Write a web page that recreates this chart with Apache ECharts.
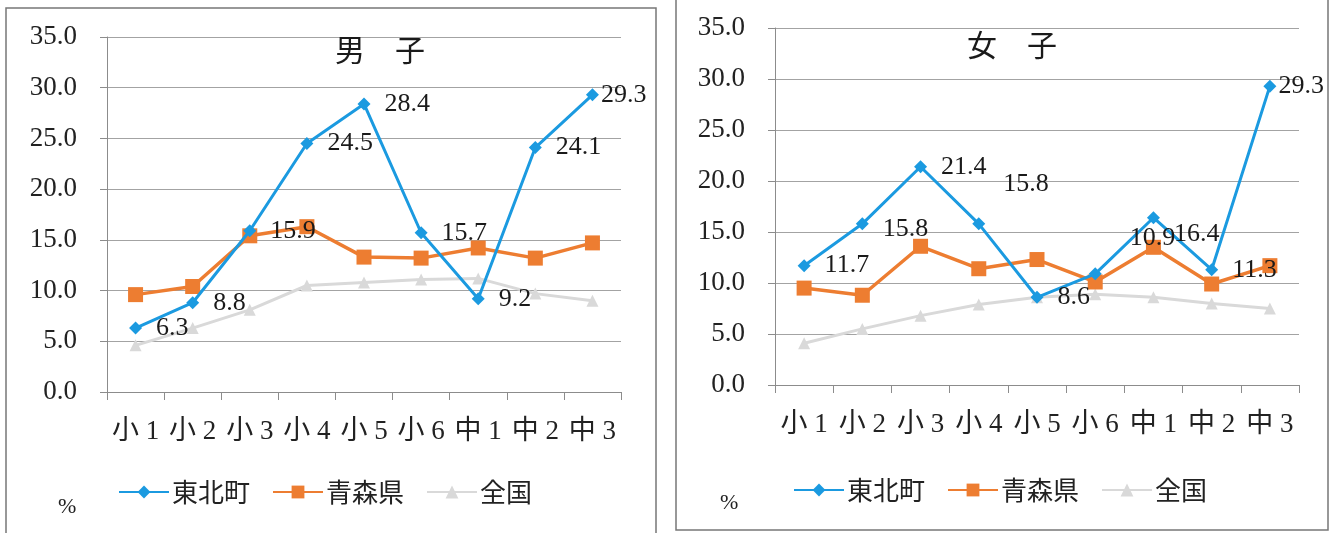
<!DOCTYPE html>
<html>
<head>
<meta charset="utf-8">
<script src="https://cdn.jsdelivr.net/npm/echarts@6/dist/echarts.min.js"></script>
<style>
  html, body { margin: 0; padding: 0; background: #fff; }
  #chart { width: 1333px; height: 533px; }
</style>
</head>
<body>
<div id="chart"></div>
<script>
// grades
const grades = ["小 1", "小 2", "小 3", "小 4", "小 5", "小 6", "中 1", "中 2", "中 3"];
const seriesNames = ["東北町", "青森県", "全国"];

// 男子 (%)
const boysTown = [6.3, 8.8, 15.9, 24.5, 28.4, 15.7, 9.2, 24.1, 29.3];
const boysPref = [9.6, 10.4, 15.4, 16.3, 13.3, 13.2, 14.2, 13.2, 14.7];
const boysNation = [4.6, 6.3, 8.1, 10.5, 10.8, 11.1, 11.2, 9.7, 9.0];

// 女子 (%)
const girlsTown = [11.7, 15.8, 21.4, 15.8, 8.6, 10.9, 16.4, 11.3, 29.3];
const girlsPref = [9.5, 8.8, 13.6, 11.4, 12.3, 10.1, 13.5, 9.9, 11.7];
const girlsNation = [4.1, 5.5, 6.8, 7.9, 8.6, 8.9, 8.6, 8.0, 7.5];

const yTicks = [0, 5, 10, 15, 20, 25, 30, 35];

const serif = "'Liberation Serif', 'Noto Sans CJK JP', serif";
const cjk = "'Noto Sans CJK JP', sans-serif";
const colors = ["#1b9ae0", "#ed7d31", "#d9d9d9"];

const chart = echarts.init(document.getElementById("chart"), null, { renderer: "canvas" });

function xAxisFor(idx) {
  return {
    type: "category",
    gridIndex: idx,
    data: grades,
    boundaryGap: true,
    axisLine: { lineStyle: { color: "#8c8c8c", width: 1 } },
    axisTick: { show: true, length: 8, interval: 0, lineStyle: { color: "#8c8c8c" } },
    axisLabel: { interval: 0, hideOverlap: false, fontFamily: serif, fontSize: 27, color: "#222", margin: 26 }
  };
}

function yAxisFor(idx) {
  return {
    type: "value",
    gridIndex: idx,
    min: yTicks[0],
    max: yTicks[yTicks.length - 1],
    interval: 5,
    axisLine: { show: true, lineStyle: { color: "#8c8c8c", width: 1 } },
    axisTick: { show: true, length: 7, lineStyle: { color: "#8c8c8c" } },
    splitLine: { lineStyle: { color: "#a3a3a3", width: 1 } },
    axisLabel: {
      fontFamily: serif, fontSize: 27, color: "#222", margin: 30,
      formatter: v => v.toFixed(1)
    }
  };
}

// per-point label nudges
function labelled(values, nudges) {
  return values.map((v, i) => {
    if (!nudges[i]) return v;
    return { value: v, label: { offset: nudges[i] } };
  });
}

function makeSeries(idx, town, pref, nation, nudges) {
  return [
    {
      name: seriesNames[0], type: "line", xAxisIndex: idx, yAxisIndex: idx,
      data: labelled(town, nudges), z: 4,
      symbol: "diamond", symbolSize: 13,
      lineStyle: { color: colors[0], width: 3 },
      itemStyle: { color: colors[0] },
      label: {
        show: true, position: "right", distance: 14,
        fontFamily: serif, fontSize: 26, color: "#1a1a1a",
        formatter: p => p.value.toFixed(1)
      }
    },
    {
      name: seriesNames[1], type: "line", xAxisIndex: idx, yAxisIndex: idx,
      data: pref, z: 3,
      symbol: "rect", symbolSize: 15,
      lineStyle: { color: colors[1], width: 3.5 },
      itemStyle: { color: colors[1] }
    },
    {
      name: seriesNames[2], type: "line", xAxisIndex: idx, yAxisIndex: idx,
      data: nation, z: 2,
      symbol: "triangle", symbolSize: 12,
      lineStyle: { color: colors[2], width: 3 },
      itemStyle: { color: colors[2] }
    }
  ];
}

const legendBase = {
  data: seriesNames,
  itemWidth: 50,
  itemHeight: 16,
  itemGap: 22,
  textStyle: { fontFamily: cjk, fontSize: 26, color: "#222", padding: [0, 0, 0, -2] }
};

chart.setOption({
  animation: false,
  color: colors,
  title: [
    { text: "男　子", left: 375, top: 30, textAlign: "center",
      textStyle: { fontFamily: cjk, fontSize: 30, fontWeight: "normal", color: "#1a1a1a" } },
    { text: "女　子", left: 1007, top: 25, textAlign: "center",
      textStyle: { fontFamily: cjk, fontSize: 30, fontWeight: "normal", color: "#1a1a1a" } }
  ],
  legend: [
    Object.assign({ left: 113, top: 474 }, legendBase),
    Object.assign({ left: 788, top: 472 }, legendBase)
  ],
  grid: [
    { left: 107, right: 712, top: 37, bottom: 141 },
    { left: 775, right: 34, top: 28, bottom: 148 }
  ],
  xAxis: [xAxisFor(0), xAxisFor(1)],
  yAxis: [yAxisFor(0), yAxisFor(1)],
  series: [
    ...makeSeries(0, boysTown, boysPref, boysNation, { 8: [-12, 0] }),
    ...makeSeries(1, girlsTown, girlsPref, girlsNation, { 1: [0, 5], 3: [4, -40], 5: [14, -36], 6: [0, 16], 8: [-12, 0] })
  ],
  graphic: [
    { type: "rect", shape: { x: 6, y: 8, width: 650, height: 540 },
      style: { fill: "none", stroke: "#777", lineWidth: 1.5 }, z: -1 },
    { type: "rect", shape: { x: 676, y: -5, width: 652, height: 535 },
      style: { fill: "none", stroke: "#777", lineWidth: 1.5 }, z: -1 },
    { type: "text", left: 58, top: 496,
      style: { text: "%", font: "22px " + serif, fill: "#222" } },
    { type: "text", left: 720, top: 492,
      style: { text: "%", font: "22px " + serif, fill: "#222" } }
  ]
});
</script>
</body>
</html>
